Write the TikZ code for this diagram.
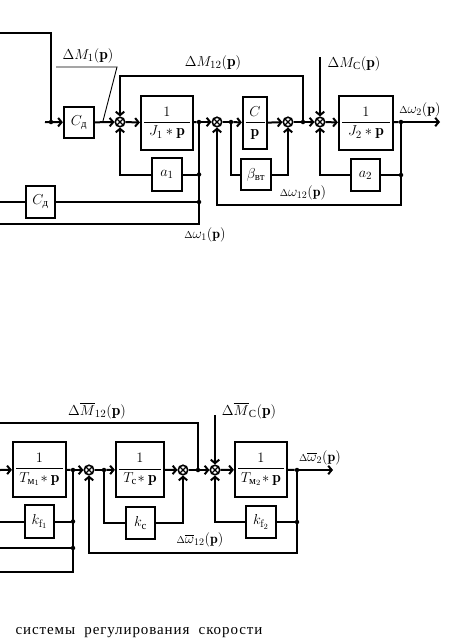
\documentclass[tikz,border=0pt]{standalone}
\usepackage{amsmath}
\usepackage{fontspec}
\usepackage{tikz}
\usetikzlibrary{arrows.meta,calc}
\newfontfamily\cyr{Liberation Serif}
\newfontfamily\cyrcap[LetterSpace=6]{Liberation Serif}
\newcommand{\cy}[1]{\text{\cyr #1}}
\newcommand{\blkfrac}[3]{$\dfrac{#1}{\makebox[#3]{$#2$}}$}
\tikzset{
  blk/.style={rectangle,draw,line width=2.2pt,inner sep=0pt,align=center},
  sum/.style={circle,draw,line width=1.6pt,minimum size=9.5pt,inner sep=0pt,
              path picture={\draw[line width=1.2pt]
                (path picture bounding box.north west) -- (path picture bounding box.south east)
                (path picture bounding box.north east) -- (path picture bounding box.south west);}},
  dot/.style={circle,fill,inner sep=0pt,minimum size=4.5pt},
  sig/.style={line width=2pt},
  flow/.style={sig,-{Straight Barb[length=3.5pt,width=8.5pt]}},
  lead/.style={line width=0.9pt},
}

\begin{document}
\begin{tikzpicture}[x=1pt,y=-1pt,font=\fontsize{15.5}{18}\selectfont,
  lbl/.style={inner sep=0pt},
  slbl/.style={inner sep=0pt,font=\fontsize{14}{16}\selectfont}]
  \useasboundingbox (0,0) rectangle (457,643);
  % upper scheme
  \coordinate (top1) at (0,33);
  \coordinate (in1) at (45,122);
  \node[dot] (j0) at (51,122) {};
  \node[blk,minimum width=30,minimum height=31] (cd1) at (79,122.5) {$C_{\cy{д}}$};
  \node[sum] (s1) at (120,122) {};
  \node[blk,minimum width=52,minimum height=54] (j1) at (167,123) {\blkfrac{1}{J_1\ast\mathbf{p}}{46pt}};
  \node[dot] (d1) at (199,122) {};
  \node[blk,minimum width=30,minimum height=33] (a1) at (167,174.5) {$a_1$};
  \node[dot] (d1a) at (199,174.5) {};
  \node[dot] (d1b) at (199,202) {};
  \coordinate (b1) at (199,224);
  \coordinate (l1) at (0,202);
  \coordinate (l2) at (0,224);
  \node[blk,minimum width=29,minimum height=32] (cd2) at (40.5,202) {$C_{\cy{д}}$};
  \node[sum] (s2) at (217,122) {};
  \node[dot] (d2) at (231,122) {};
  \node[blk,minimum width=24,minimum height=52] (cp) at (255,123) {\blkfrac{C}{\mathbf{p}}{19pt}};
  \node[blk,minimum width=30,minimum height=31] (bt) at (256,174.5) {$\beta_{\cy{вт}}$};
  \node[sum] (s3) at (288,122) {};
  \node[dot] (d3) at (303,122) {};
  \coordinate (m12) at (303,76);
  \node[sum] (s4) at (320,122) {};
  \coordinate (mc) at (320,57);
  \node[blk,minimum width=54,minimum height=54] (j2) at (366,123) {\blkfrac{1}{J_2\ast\mathbf{p}}{48pt}};
  \node[dot] (d4) at (401,122) {};
  \coordinate (out1) at (440,122);
  \node[blk,minimum width=29,minimum height=32] (a2) at (365.5,175) {$a_2$};
  \node[dot] (d4a) at (401,175) {};
  \coordinate (b2) at (401,205);
  \coordinate (q1) at (56,67);
  \coordinate (q2) at (117,67);
  \coordinate (q3) at (103,121);
  \node[lbl] (tm1) at (88,56) {$\Delta M_1(\mathbf{p})$};
  \node[lbl] (tm12) at (213,63) {$\Delta M_{12}(\mathbf{p})$};
  \node[lbl] (tmc) at (354,64) {$\Delta M_{\cy{С}}(\mathbf{p})$};
  \node[slbl] (tw2) at (420,110) {$\scriptstyle\Delta\textstyle\omega_2(\mathbf{p})$};
  \node[slbl] (tw12) at (303,193) {$\scriptstyle\Delta\textstyle\omega_{12}(\mathbf{p})$};
  \node[slbl] (tw1) at (205,235) {$\scriptstyle\Delta\textstyle\omega_1(\mathbf{p})$};
  \draw[sig] (top1) -| (j0);
  \draw[flow] (in1) -- (cd1);
  \draw[flow] (cd1) -- (s1);
  \draw[flow] (s1) -- (j1);
  \draw[sig] (j1) -- (d1);
  \draw[flow] (d1) -- (s2);
  \draw[sig] (d1) -- (b1) -- (l2);
  \draw[sig] (l1) -- (cd2);
  \draw[sig] (cd2) -- (d1b);
  \draw[sig] (d1a) -- (a1);
  \draw[flow] (a1) -| (s1);
  \draw[flow] (d3) -- (m12) -| (s1);
  \draw[lead] (q1) -- (q2) -- (q3);
  \draw[sig] (s2) -- (d2);
  \draw[flow] (d2) -- (cp);
  \draw[flow] (cp) -- (s3);
  \draw[sig] (d2) |- (bt);
  \draw[flow] (bt) -| (s3);
  \draw[sig] (s3) -- (d3);
  \draw[flow] (d3) -- (s4);
  \draw[flow] (mc) -- (s4);
  \draw[flow] (s4) -- (j2);
  \draw[sig] (j2) -- (d4);
  \draw[flow] (d4) -- (out1);
  \draw[sig] (d4a) -- (a2);
  \draw[flow] (a2) -| (s4);
  \draw[flow] (d4) -- (b2) -| (s2);
  % lower scheme
  \coordinate (in2) at (0,470);
  \coordinate (top2) at (0,423);
  \node[blk,minimum width=53,minimum height=55] (tm1b) at (39.5,469.5) {\blkfrac{1}{T_{\cy{м}_1}\!\ast\mathbf{p}}{47pt}};
  \node[dot] (e1) at (73,470) {};
  \node[blk,minimum width=29,minimum height=33] (kf1) at (39.5,521.5) {$k_{\mathrm{f}_1}$};
  \node[dot] (e1a) at (73,521.5) {};
  \node[dot] (e1b) at (73,548) {};
  \coordinate (c1) at (73,572);
  \coordinate (r1) at (0,521.5);
  \coordinate (r2) at (0,548);
  \coordinate (r3) at (0,572);
  \node[sum] (s5) at (89,470) {};
  \node[dot] (e2) at (104,470) {};
  \node[blk,minimum width=48,minimum height=55] (tc) at (140,469.5) {\blkfrac{1}{T_{\cy{с}}\!\ast\mathbf{p}}{42pt}};
  \node[blk,minimum width=29,minimum height=32] (kc) at (140.5,523) {$k_{\cy{с}}$};
  \node[sum] (s6) at (183,470) {};
  \node[dot] (e3) at (198,470) {};
  \coordinate (n12) at (198,423);
  \node[sum] (s7) at (215,470) {};
  \coordinate (nc) at (215,415);
  \node[blk,minimum width=52,minimum height=55] (tm2b) at (261,469.5) {\blkfrac{1}{T_{\cy{м}_2}\!\ast\mathbf{p}}{46pt}};
  \node[dot] (e4) at (297,470) {};
  \coordinate (out2) at (333,470);
  \node[blk,minimum width=30,minimum height=32] (kf2) at (261,522) {$k_{\mathrm{f}_2}$};
  \node[dot] (e4a) at (297,522) {};
  \coordinate (c2) at (297,553);
  \node[lbl] (tn12) at (97,411) {$\Delta\overline{M}_{12}(\mathbf{p})$};
  \node[lbl] (tnc) at (249,411) {$\Delta\overline{M}_{\cy{С}}(\mathbf{p})$};
  \node[slbl] (tv2) at (320,458) {$\scriptstyle\Delta\textstyle\overline{\omega}_2(\mathbf{p})$};
  \node[slbl] (tv12) at (200,540) {$\scriptstyle\Delta\textstyle\overline{\omega}_{12}(\mathbf{p})$};
  \draw[flow] (in2) -- (tm1b);
  \draw[sig] (tm1b) -- (e1);
  \draw[flow] (e1) -- (s5);
  \draw[sig] (e1) -- (c1) -- (r3);
  \draw[sig] (r1) -- (kf1);
  \draw[sig] (kf1) -- (e1a);
  \draw[sig] (r2) -- (e1b);
  \draw[sig] (top2) -- (n12) -- (e3);
  \draw[sig] (s5) -- (e2);
  \draw[flow] (e2) -- (tc);
  \draw[flow] (tc) -- (s6);
  \draw[sig] (e2) |- (kc);
  \draw[flow] (kc) -| (s6);
  \draw[sig] (s6) -- (e3);
  \draw[flow] (e3) -- (s7);
  \draw[flow] (nc) -- (s7);
  \draw[flow] (s7) -- (tm2b);
  \draw[sig] (tm2b) -- (e4);
  \draw[flow] (e4) -- (out2);
  \draw[sig] (e4a) -- (kf2);
  \draw[flow] (kf2) -| (s7);
  \draw[flow] (e4) -- (c2) -| (s5);
  \node[inner sep=0pt,font=\cyrcap\fontsize{15}{18}\selectfont] (cap) at (139,633) {системы\ \ регулирования\ \ скорости};
\end{tikzpicture}
\end{document}
